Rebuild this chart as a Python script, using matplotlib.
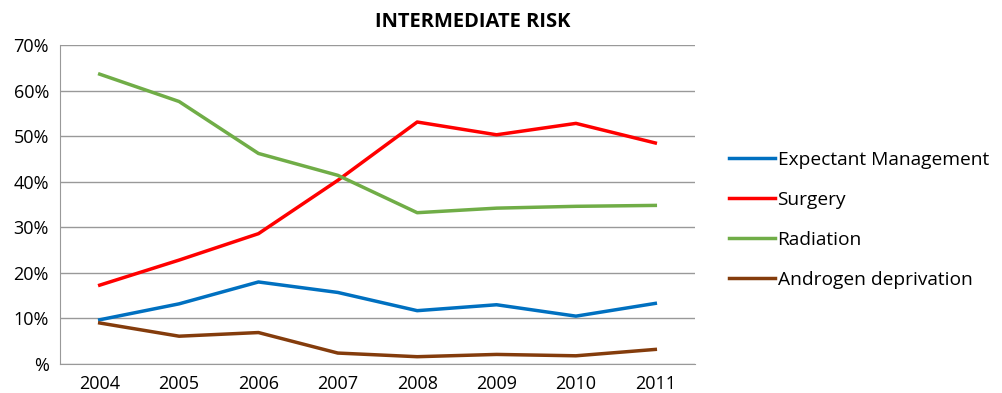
import matplotlib.pyplot as plt

years = ['2004', '2005', '2006', '2007', '2008', '2009', '2010', '2011']
expectant = [9.7, 13.2, 18.0, 15.7, 11.7, 13.0, 10.5, 13.3]
surgery = [17.3, 22.8, 28.6, 40.3, 53.1, 50.3, 52.8, 48.5]
radiation = [63.6, 57.6, 46.2, 41.4, 33.2, 34.2, 34.6, 34.8]
androgen = [9.0, 6.1, 6.9, 2.4, 1.6, 2.1, 1.8, 3.2]
yticks = [0, 10, 20, 30, 40, 50, 60, 70]
ylabels = ['%', '10%', '20%', '30%', '40%', '50%', '60%', '70%']

plt.rcParams['font.family'] = ['Open Sans', 'DejaVu Sans']

fig = plt.figure(figsize=(10.02, 3.93), dpi=100)
ax = fig.add_axes([0.0599, 0.0738, 0.6337, 0.8117])

x = range(len(years))
ax.plot(x, expectant, color='#0070C0', lw=2.5, label='Expectant Management')
ax.plot(x, surgery, color='#FF0000', lw=2.5, label='Surgery')
ax.plot(x, radiation, color='#70AD47', lw=2.5, label='Radiation')
ax.plot(x, androgen, color='#843C0C', lw=2.5, label='Androgen deprivation')

ax.set_xlim(-0.5, len(years) - 0.5)
ax.set_ylim(0, 70)
ax.set_xticks(list(x))
ax.set_xticklabels(years, fontsize=13)
ax.set_yticks(yticks)
ax.set_yticklabels(ylabels, fontsize=13)
ax.tick_params(length=0, pad=8)
ax.grid(axis='y', color='#999999', lw=1)
ax.set_axisbelow(True)
for s in ['top', 'right']:
    ax.spines[s].set_visible(False)
ax.spines['left'].set_color('#999999')
ax.spines['bottom'].set_color('#999999')

fig.text(0.472, 0.945, 'INTERMEDIATE RISK', ha='center', va='center',
         fontsize=14.5, fontweight='bold')
fig.legend(loc='center left', bbox_to_anchor=(0.71, 0.44), frameon=False,
           fontsize=13.8, handlelength=2.4, handletextpad=0.15, labelspacing=1.15)

plt.savefig('out.png')
